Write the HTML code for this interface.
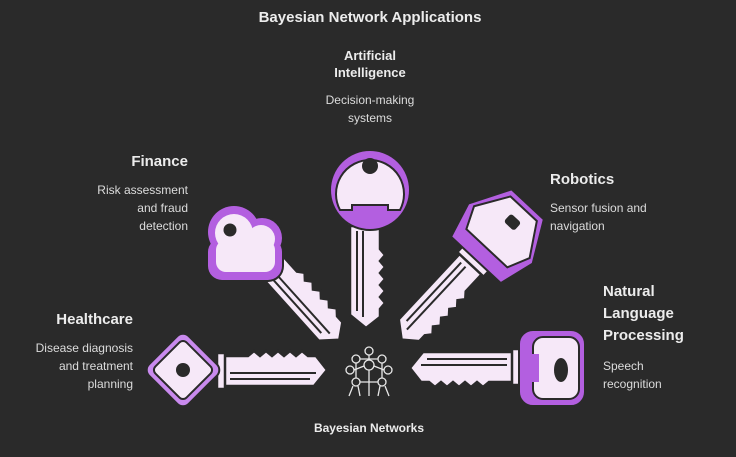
<!DOCTYPE html>
<html><head><style>
html,body{margin:0;padding:0;background:#2a2a2a;}
svg{display:block}
text{font-family:"Liberation Sans",sans-serif;}
.t{fill:#ececec;font-weight:bold;font-size:15px}
.d{fill:#dcdcdc;font-size:12px}
</style></head><body>
<svg width="736" height="457" viewBox="0 0 736 457" xmlns="http://www.w3.org/2000/svg">
<rect width="736" height="457" fill="#2a2a2a"/>
<defs>
<g id="blade">
  <path d="M-16,-98 L-16,-8 L0,5 L14,-6 L14,-14 L19,-20 L14,-26 L19,-32 L14,-38 L19,-44 L14,-50 L19,-56 L14,-62 L19,-68 L14,-74 L14,-98 Z" fill="#f6e8f8" stroke="#2a2a2a" stroke-width="2.5"/>
  <line x1="-9" y1="-92" x2="-9" y2="-12" stroke="#2a2a2a" stroke-width="2"/>
  <line x1="-3" y1="-92" x2="-3" y2="-6" stroke="#2a2a2a" stroke-width="2"/>
  <rect x="-19" y="-105" width="36" height="8" fill="#f6e8f8" stroke="#2a2a2a" stroke-width="2.5"/>
</g>
</defs>

<text x="370" y="22" text-anchor="middle" class="t">Bayesian Network Applications</text>

<!-- AI key -->
<g transform="translate(366,323)">
  <use href="#blade"/>
  <circle cx="4" cy="-133" r="40" fill="#b35fe0" stroke="#2a2a2a" stroke-width="2"/>
  <path d="M-26,-113 A34,34 0 1 1 34,-113 L22,-113 L22,-118 L-14,-118 L-14,-113 Z" fill="#f6e8f8" stroke="#2a2a2a" stroke-width="2"/>
  <circle cx="4" cy="-157" r="8" fill="#2a2a2a"/>
</g>
<text x="370" y="60" text-anchor="middle" class="t" style="font-size:13px">Artificial</text>
<text x="370" y="77" text-anchor="middle" class="t" style="font-size:13px">Intelligence</text>
<text x="370" y="104" text-anchor="middle" class="d">Decision-making</text>
<text x="370" y="122" text-anchor="middle" class="d">systems</text>

<!-- Finance key -->
<g transform="translate(336,336) rotate(-42)">
  <use href="#blade"/>
</g>
<g>
  <circle cx="234" cy="232" r="28" fill="#2a2a2a"/>
  <circle cx="262" cy="238" r="22" fill="#2a2a2a"/>
  <rect x="206" y="236" width="78" height="46" rx="16" fill="#2a2a2a"/>
  <circle cx="234" cy="232" r="26" fill="#b35fe0"/>
  <circle cx="262" cy="238" r="20" fill="#b35fe0"/>
  <rect x="208" y="238" width="74" height="42" rx="14" fill="#b35fe0"/>
  <circle cx="234" cy="233" r="19" fill="#f6e8f8"/>
  <circle cx="261" cy="239" r="14" fill="#f6e8f8"/>
  <rect x="216" y="240" width="59" height="32" rx="10" fill="#f6e8f8"/>
  <circle cx="230" cy="230" r="6.5" fill="#2a2a2a"/>
</g>
<text x="188" y="166" text-anchor="end" class="t">Finance</text>
<text x="188" y="194" text-anchor="end" class="d">Risk assessment</text>
<text x="188" y="212" text-anchor="end" class="d">and fraud</text>
<text x="188" y="230" text-anchor="end" class="d">detection</text>

<!-- Robotics key -->
<g transform="translate(405,336) rotate(43)">
  <use href="#blade"/>
  <path d="M-34,-104 L-44,-140 L-22,-180 L22,-180 L44,-140 L34,-104 Z" fill="#b35fe0" stroke="#2a2a2a" stroke-width="2"/>
  <path d="M-28,-120 L-38,-142 L-18,-174 L18,-174 L38,-142 L28,-120 Z" fill="#f6e8f8" stroke="#2a2a2a" stroke-width="2"/>
  <rect x="-6" y="-162" width="14" height="11" rx="3" fill="#2a2a2a"/>
</g>
<text x="550" y="184" class="t">Robotics</text>
<text x="550" y="212" class="d">Sensor fusion and</text>
<text x="550" y="230" class="d">navigation</text>

<!-- Healthcare key -->
<g transform="translate(322,370) rotate(-90)">
  <use href="#blade"/>
  <rect x="-28" y="-167" width="56" height="56" rx="8" transform="rotate(45 0 -139)" fill="#c98aee" stroke="#2a2a2a" stroke-width="2"/>
  <rect x="-22" y="-161" width="44" height="44" rx="5" transform="rotate(45 0 -139)" fill="#f6e8f8" stroke="#2a2a2a" stroke-width="2"/>
  <circle cx="0" cy="-139" r="7" fill="#2a2a2a"/>
</g>
<text x="133" y="324" text-anchor="end" class="t">Healthcare</text>
<text x="133" y="352" text-anchor="end" class="d">Disease diagnosis</text>
<text x="133" y="370" text-anchor="end" class="d">and treatment</text>
<text x="133" y="388" text-anchor="end" class="d">planning</text>

<!-- NLP key -->
<g transform="translate(415,368) rotate(90)">
  <use href="#blade"/>
  <rect x="-38" y="-170" width="76" height="66" rx="14" fill="#b35fe0" stroke="#2a2a2a" stroke-width="2"/>
  <rect x="-31" y="-164" width="62" height="46" rx="10" fill="#f6e8f8" stroke="#2a2a2a" stroke-width="2"/>
  <rect x="-14" y="-124" width="28" height="8" fill="#b35fe0"/>
  <ellipse cx="2" cy="-146" rx="12" ry="7" fill="#2a2a2a"/>
</g>
<text x="603" y="296" class="t">Natural</text>
<text x="603" y="318" class="t">Language</text>
<text x="603" y="340" class="t">Processing</text>
<text x="603" y="370" class="d">Speech</text>
<text x="603" y="388" class="d">recognition</text>

<!-- center network icon -->
<g fill="none" stroke="#e8e8e8" stroke-width="1.3">
  <circle cx="369" cy="351" r="4"/>
  <circle cx="356" cy="359" r="4"/><circle cx="382" cy="359" r="4"/>
  <circle cx="369" cy="365" r="5"/>
  <circle cx="350" cy="370" r="4"/><circle cx="388" cy="370" r="4"/>
  <circle cx="356" cy="382" r="4"/><circle cx="382" cy="382" r="4"/>
  <line x1="369" y1="355" x2="369" y2="360"/>
  <line x1="360" y1="359" x2="378" y2="359"/>
  <line x1="356" y1="363" x2="356" y2="378"/><line x1="382" y1="363" x2="382" y2="378"/>
  <line x1="354" y1="370" x2="364" y2="366"/><line x1="384" y1="370" x2="374" y2="366"/>
  <line x1="360" y1="382" x2="378" y2="382"/>
  <line x1="353" y1="386" x2="349" y2="396"/><line x1="358" y1="386" x2="360" y2="396"/>
  <line x1="369" y1="370" x2="369" y2="396"/>
  <line x1="380" y1="386" x2="378" y2="396"/><line x1="385" y1="386" x2="389" y2="396"/>
</g>
<text x="369" y="432" text-anchor="middle" class="t" style="font-size:12px">Bayesian Networks</text>
</svg>
</body></html>
